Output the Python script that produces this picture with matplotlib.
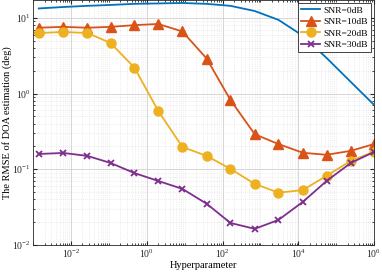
import numpy as np
import matplotlib
matplotlib.use("Agg")
import matplotlib.pyplot as plt
from matplotlib.ticker import FixedLocator, LogLocator, NullFormatter

plt.rcParams['font.family'] = ['Liberation Serif', 'DejaVu Serif']
plt.rcParams['mathtext.fontset'] = 'stix'

# hyperparameter values
hyper = [1.4e-3, 6.2e-3, 2.7e-2, 0.11, 0.47, 2.0, 8.7, 38, 162, 708,
         3.0e3, 1.32e4, 5.6e4, 2.45e5, 1e6]

rmse_0db = [13.3, 13.9, 14.4, 14.8, 15.3, 15.5, 15.7, 15.3, 14.4, 12.3,
            9.4, 5.8, 2.95, 1.42, 0.71]
rmse_10db = [7.4, 7.6, 7.4, 7.6, 8.0, 8.3, 6.6, 2.9, 0.82, 0.29,
             0.215, 0.165, 0.155, 0.175, 0.215]
rmse_20db = [6.3, 6.5, 6.3, 4.65, 2.2, 0.59, 0.197, 0.150, 0.101, 0.064,
             0.049, 0.053, 0.082, 0.129, 0.17]
rmse_30db = [0.159, 0.164, 0.150, 0.121, 0.089, 0.070, 0.055, 0.035, 0.0195, 0.0163,
             0.0214, 0.037, 0.070, 0.121, 0.169]

labels = ['SNR=0dB', 'SNR=10dB', 'SNR=20dB', 'SNR=30dB']

fig = plt.figure(figsize=(3.82, 2.78), dpi=100)
ax = fig.add_axes([0.087, 0.119, 0.892, 0.881])

ax.plot(hyper, rmse_0db, color='#0072BD', lw=1.3, label=labels[0])
ax.plot(hyper, rmse_10db, color='#D95319', lw=1.3, marker='^', ms=6.5, label=labels[1])
ax.plot(hyper, rmse_20db, color='#EDB120', lw=1.3, marker='o', ms=6.5, label=labels[2])
ax.plot(hyper, rmse_30db, color='#7E2F8E', lw=1.3, marker='x', ms=5, mew=1.3, label=labels[3])

ax.set_xscale('log')
ax.set_yscale('log')
ax.set_xlim(1e-3, 1e6)
ax.set_ylim(1e-2, 17.2)

ax.xaxis.set_major_locator(FixedLocator([1e-2, 1e0, 1e2, 1e4, 1e6]))
ax.xaxis.set_minor_locator(LogLocator(base=10, subs=np.arange(1, 10), numticks=50))
ax.xaxis.set_minor_formatter(NullFormatter())
ax.yaxis.set_major_locator(FixedLocator([1e-2, 1e-1, 1e0, 1e1]))
ax.yaxis.set_minor_locator(LogLocator(base=10, subs=np.arange(2, 10), numticks=50))
ax.yaxis.set_minor_formatter(NullFormatter())

ax.grid(True, which='major', color='#d0d0d0', lw=0.6)
ax.grid(True, which='minor', color='#e0e0e0', lw=0.5, ls=':')
ax.tick_params(which='both', direction='in', top=True, right=True,
               labelsize=7, colors='#262626', pad=2)
ax.tick_params(which='major', length=3)
ax.tick_params(which='minor', length=1.5)
for s in ax.spines.values():
    s.set_color('#262626')
    s.set_linewidth(0.6)

ax.set_xlabel('Hyperparameter', fontsize=7.5, labelpad=1)
ax.set_ylabel('The RMSE of DOA estimation (deg)', fontsize=7.5, labelpad=0)

leg = ax.legend(loc='upper right', fontsize=6.8, frameon=True, fancybox=False,
                edgecolor='#262626', framealpha=1, borderpad=0.35, labelspacing=0.3,
                handlelength=2.0, handletextpad=0.3, borderaxespad=0.3)
leg.get_frame().set_linewidth(0.6)

fig.savefig('out.png', dpi=100)
